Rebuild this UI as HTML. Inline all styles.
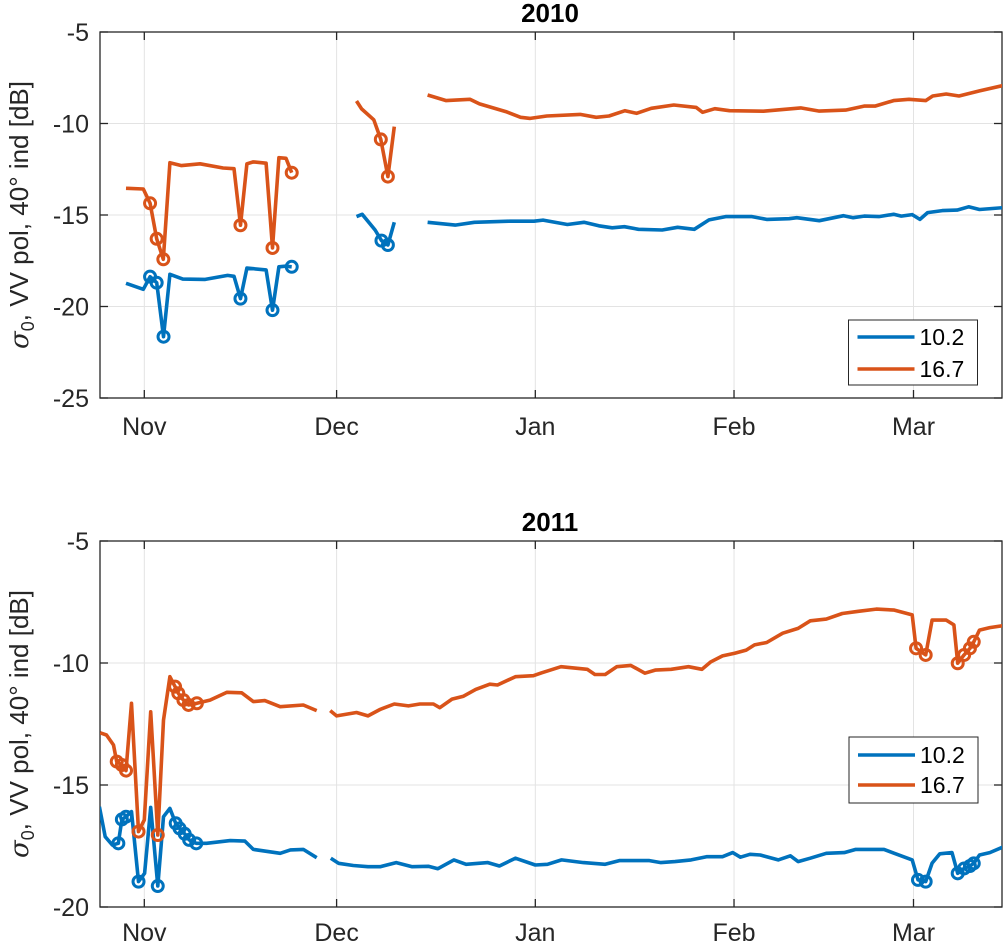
<!DOCTYPE html>
<html><head><meta charset="utf-8"><style>
html,body{margin:0;padding:0;background:#fff;}
svg{display:block;font-family:"Liberation Sans",Arial,sans-serif;}
</style></head><body>
<svg id="chart" width="1004" height="944" viewBox="0 0 1004 944" xmlns="http://www.w3.org/2000/svg"></svg>
<script>
// ---- data ----
const monthLabels = ["Nov","Dec","Jan","Feb","Mar"];
const monthDays = [0,30,61,92,120];
const yTicks2010 = [-5,-10,-15,-20,-25];
const yTicks2011 = [-5,-10,-15,-20];
const seriesNames = ["10.2","16.7"];
// [day since Nov 1, value dB, marker flag]; null = gap
const blue2010 = [[-2.85,-18.73,0],[-0.15,-19.06,0],[0.9,-18.37,1],[1.93,-18.7,1],[3,-21.65,1],[4,-18.24,0],[6,-18.5,0],[9.5,-18.52,0],[13,-18.3,0],[14,-18.35,0],[15,-19.57,1],[16,-17.9,0],[19,-18.0,0],[20,-20.2,1],[21,-17.83,0],[22,-17.8,0],[23,-17.83,1],null,
[33.1,-15.09,0],[34,-14.96,0],[36,-15.82,0],[37,-16.4,1],[38,-16.64,1],[39,-15.4,0],null,
[44.2,-15.4,0],[48.5,-15.55,0],[51.5,-15.4,0],[57,-15.34,0],[60.8,-15.34,0],[62.2,-15.28,0],[66,-15.52,0],[68.6,-15.4,0],[70.9,-15.59,0],[73,-15.7,0],[74.9,-15.64,0],[77.1,-15.78,0],[80.8,-15.82,0],[83.2,-15.67,0],[85.8,-15.78,0],[88.1,-15.27,0],[90.7,-15.09,0],[94.8,-15.09,0],[97.1,-15.24,0],[100.6,-15.2,0],[101.8,-15.15,0],[105.3,-15.31,0],[109.1,-15.04,0],[110.6,-15.15,0],[112.3,-15.06,0],[114.6,-15.09,0],[116.9,-14.96,0],[118.1,-15.06,0],[119.8,-14.98,0],[121,-15.24,0],[122.2,-14.87,0],[124.5,-14.76,0],[126.8,-14.73,0],[128.6,-14.55,0],[130.3,-14.7,0],[133.9,-14.6,0]];
const orange2010 = [[-2.85,-13.54,0],[-0.15,-13.58,0],[0.9,-14.36,1],[1.93,-16.3,1],[2.97,-17.42,1],[4,-12.14,0],[5.8,-12.3,0],[8.7,-12.2,0],[12.3,-12.43,0],[14,-12.47,0],[15,-15.56,1],[16,-12.2,0],[17,-12.1,0],[19,-12.17,0],[20,-16.8,1],[21,-11.87,0],[22.1,-11.9,0],[23,-12.69,1],null,
[33.1,-8.77,0],[33.9,-9.2,0],[35.8,-9.8,0],[36.9,-10.87,1],[38,-12.9,1],[39,-10.17,0],null,
[44.2,-8.44,0],[47.1,-8.75,0],[50.8,-8.68,0],[52.3,-8.93,0],[56.4,-9.35,0],[58.7,-9.66,0],[60.2,-9.72,0],[62.8,-9.59,0],[68,-9.5,0],[70.5,-9.66,0],[72.5,-9.59,0],[75,-9.3,0],[76.8,-9.44,0],[79.1,-9.17,0],[82.6,-8.99,0],[86.1,-9.12,0],[87.1,-9.39,0],[89,-9.19,0],[91.3,-9.3,0],[96.6,-9.33,0],[102.4,-9.15,0],[105.3,-9.32,0],[109.4,-9.27,0],[112.3,-9.05,0],[114,-9.05,0],[116.9,-8.75,0],[119.3,-8.68,0],[121.9,-8.75,0],[123,-8.5,0],[125.1,-8.39,0],[127.1,-8.5,0],[130.3,-8.22,0],[133.9,-7.93,0]];
const blue2011 = [[-7,-15.89,0],[-6.1,-17.12,0],[-5,-17.46,0],[-4.05,-17.39,1],[-3.5,-16.41,1],[-2.85,-16.3,1],[-2,-16.09,0],[-0.9,-18.96,1],[0.05,-18.62,0],[1,-15.92,0],[2.1,-19.14,1],[3,-16.3,0],[4,-15.96,0],[4.9,-16.57,1],[5.5,-16.78,1],[6.3,-17.0,1],[7,-17.25,1],[8.1,-17.39,1],[9.7,-17.39,0],[13.4,-17.28,0],[15.7,-17.3,0],[17,-17.64,0],[21.2,-17.8,0],[22.8,-17.66,0],[24.8,-17.64,0],[26.9,-17.98,0],null,
[29.1,-18.0,0],[30.3,-18.21,0],[32.6,-18.3,0],[34.9,-18.35,0],[36.8,-18.35,0],[39.3,-18.18,0],[41.8,-18.35,0],[44.3,-18.33,0],[45.8,-18.43,0],[48.3,-18.07,0],[50.2,-18.25,0],[53.6,-18.18,0],[55.4,-18.32,0],[57.9,-18.0,0],[61,-18.28,0],[62.9,-18.25,0],[65.1,-18.07,0],[68.5,-18.18,0],[71.9,-18.25,0],[74.1,-18.1,0],[78.8,-18.1,0],[80.6,-18.18,0],[82.8,-18.14,0],[85.3,-18.07,0],[87.7,-17.94,0],[90.2,-17.94,0],[91.8,-17.77,0],[93,-17.96,0],[94.5,-17.84,0],[96.1,-17.87,0],[98.9,-18.07,0],[100.8,-17.9,0],[102,-18.14,0],[103.9,-18.0,0],[106.4,-17.8,0],[109.2,-17.77,0],[111,-17.64,0],[115.4,-17.64,0],[117,-17.8,0],[119.8,-18.07,0],[120.7,-18.89,1],[121.9,-18.96,1],[122.9,-18.2,0],[124.1,-17.82,0],[126,-17.77,0],[126.9,-18.62,1],[127.9,-18.42,1],[128.8,-18.32,1],[129.4,-18.21,1],[130.3,-17.87,0],[131.9,-17.77,0],[133.9,-17.55,0]];
const orange2011 = [[-6.9,-12.86,0],[-5.9,-12.95,0],[-4.8,-13.36,0],[-4.3,-14.04,1],[-3.5,-14.18,1],[-2.85,-14.41,1],[-2,-11.65,0],[-0.9,-16.91,1],[0,-16.43,0],[1,-12.0,0],[2.1,-17.05,1],[3,-12.34,0],[4,-10.56,0],[4.8,-10.97,1],[5.3,-11.24,1],[6.1,-11.52,1],[6.9,-11.72,1],[8.2,-11.65,1],[10.25,-11.52,0],[12.9,-11.2,0],[15.2,-11.22,0],[17,-11.58,0],[18.8,-11.54,0],[21.2,-11.79,0],[24.8,-11.72,0],[26.9,-11.95,0],null,
[29,-11.95,0],[30,-12.17,0],[33.1,-12.03,0],[34.9,-12.17,0],[36.8,-11.9,0],[39,-11.68,0],[41.2,-11.76,0],[43,-11.68,0],[45.1,-11.68,0],[46.1,-11.83,0],[48,-11.48,0],[49.8,-11.36,0],[51.7,-11.08,0],[53.9,-10.87,0],[55.1,-10.9,0],[57.9,-10.56,0],[60.7,-10.52,0],[62,-10.4,0],[65,-10.15,0],[69.1,-10.26,0],[70.3,-10.47,0],[71.9,-10.47,0],[73.7,-10.15,0],[75.9,-10.1,0],[78.1,-10.42,0],[79.7,-10.29,0],[82.2,-10.26,0],[84.9,-10.15,0],[87,-10.26,0],[88.4,-9.95,0],[90.2,-9.71,0],[92.1,-9.6,0],[93.9,-9.47,0],[95.2,-9.26,0],[97.1,-9.16,0],[99.6,-8.78,0],[102,-8.58,0],[103.9,-8.27,0],[106.4,-8.2,0],[108.9,-7.97,0],[111.4,-7.88,0],[114.2,-7.79,0],[117,-7.83,0],[119.8,-8.03,0],[120.4,-9.4,1],[121.9,-9.67,1],[122.9,-8.24,0],[125.1,-8.24,0],[126.3,-8.44,0],[126.9,-10.01,1],[127.9,-9.67,1],[128.8,-9.4,1],[129.4,-9.13,1],[130.3,-8.65,0],[131.9,-8.55,0],[133.9,-8.47,0]];

const NS="http://www.w3.org/2000/svg";
const svg=document.getElementById('chart');
function mk(tag,attrs,parent){const e=document.createElementNS(NS,tag);for(const k in attrs)e.setAttribute(k,attrs[k]);(parent||svg).appendChild(e);return e;}
const X0=100,X1=1002,DAY0=144.3,PXD=6.41;
function xs(d){return DAY0+PXD*d;}
const BLUE="#0072BD",ORANGE="#D95319";

function panel(cfg){
  const g=mk('g',{});
  
  
  const yMin=cfg.yMin,yMax=cfg.yMax,T=cfg.top,B=cfg.bottom;
  const ys=v=>T+(yMax-v)/(yMax-yMin)*(B-T);
  monthDays.forEach((d,i)=>{
    const l=mk('line',{x1:xs(d),x2:xs(d),y1:T,y2:B,stroke:'#e3e3e3','stroke-width':1},g);
    
    
  });
  cfg.ticks.forEach(v=>{
    const l=mk('line',{x1:X0,x2:X1,y1:ys(v),y2:ys(v),stroke:'#e3e3e3','stroke-width':1},g);
    
    
  });
  const r=mk('rect',{x:X0,y:T,width:X1-X0,height:B-T,fill:'none',stroke:'#262626','stroke-width':1.3},g);
  
  
  monthDays.forEach((d,i)=>{
    mk('line',{x1:xs(d),x2:xs(d),y1:B,y2:B-8,stroke:'#262626','stroke-width':1.3},g);
    mk('line',{x1:xs(d),x2:xs(d),y1:T,y2:T+8,stroke:'#262626','stroke-width':1.3},g);
    const t=mk('text',{x:xs(d),y:B+cfg.xlab,'text-anchor':'middle','font-size':25,fill:'#262626'},g);
    t.textContent=monthLabels[i];
    
    
  });
  cfg.ticks.forEach(v=>{
    mk('line',{x1:X0,x2:X0+8,y1:ys(v),y2:ys(v),stroke:'#262626','stroke-width':1.3},g);
    mk('line',{x1:X1-8,x2:X1,y1:ys(v),y2:ys(v),stroke:'#262626','stroke-width':1.3},g);
    const t=mk('text',{x:89,y:ys(v)+9,'text-anchor':'end','font-size':25,fill:'#262626'},g);
    t.textContent=String(v);
    
    
  });
  const tt=mk('text',{x:550,y:cfg.top-10,'text-anchor':'middle','font-size':26,'font-weight':'bold',fill:'#000'},g);
  tt.textContent=cfg.title;
  
  
  const cy=(T+B)/2;
  const yl=mk('text',{x:0,y:0,'text-anchor':'middle','font-size':26,fill:'#262626',transform:'translate(28,'+cy+') rotate(-90)'},g);
  
  
  const s1=mk('tspan',{'font-family':'"DejaVu Serif",serif','font-style':'italic'},yl);s1.textContent='σ';
  const s2=mk('tspan',{'font-size':18,dy:6},yl);s2.textContent='0';
  const s3=mk('tspan',{dy:-6},yl);s3.textContent=', VV pol, 40° ind [dB]';
  const cid='clip'+cfg.title;
  const cp=mk('clipPath',{id:cid},g);mk('rect',{x:X0,y:T,width:X1-X0,height:B-T},cp);
  [[cfg.blue,BLUE,'series-10-2'],[cfg.orange,ORANGE,'series-16-7']].forEach(([data,col,nm])=>{
    const sg=mk('g',{'clip-path':'url(#'+cid+')'},g);
    
    
    let d='',pen=false;
    data.forEach(p=>{
      if(!p){pen=false;return;}
      d+=(pen?'L':'M')+xs(p[0]).toFixed(1)+' '+ys(p[1]).toFixed(1)+' ';pen=true;
    });
    const path=mk('path',{d:d,fill:'none',stroke:col,'stroke-width':3.6,'stroke-linejoin':'round'},sg);
    
    
    data.forEach(p=>{
      if(p&&p[2]){
        const c=mk('circle',{cx:xs(p[0]),cy:ys(p[1]),r:5.5,fill:'none',stroke:col,'stroke-width':3},sg);
        
        
      }
    });
  });
  const L=cfg.legend;
  const lg=mk('g',{},g);
  
  
  mk('rect',{x:L.x,y:L.y,width:129,height:L.h,fill:'#fff',stroke:'#262626','stroke-width':1},lg);
  [[BLUE,L.e1],[ORANGE,L.e2]].forEach(([col,yy],i)=>{
    const le=mk('g',{},lg);
    
    
    mk('line',{x1:L.x+9,x2:L.x+66,y1:yy,y2:yy,stroke:col,'stroke-width':3.6},le);
    const t=mk('text',{x:L.x+71,y:yy+8,'font-size':23,fill:'#000'},le);
    t.textContent=seriesNames[i];
  });
}
panel({name:'panel-2010',title:'2010',top:32,bottom:398,yMin:-25,yMax:-5,ticks:yTicks2010,blue:blue2010,orange:orange2010,xlab:37,legend:{x:848.5,y:320,h:65,e1:337,e2:369}});
panel({name:'panel-2011',title:'2011',top:541,bottom:907,yMin:-20,yMax:-5,ticks:yTicks2011,blue:blue2011,orange:orange2011,xlab:34,legend:{x:849,y:737,h:66,e1:755,e2:785}});
</script>
</body></html>
